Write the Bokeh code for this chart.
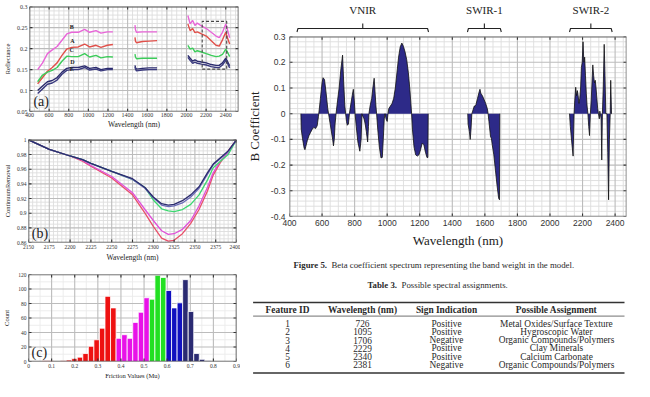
import math
from bokeh.plotting import figure
from bokeh.layouts import row, column
from bokeh.models import Range1d, SingleIntervalTicker, CustomJSTickFormatter, ColumnDataSource
from bokeh.core.properties import value
from bokeh.embed import file_html
from bokeh.resources import INLINE

SERIF = "Liberation Serif"
SANS = "Liberation Sans"

# ---------------- data: (a) reflectance spectra ----------------
refl_wl_1 = [483, 533, 583, 632, 681, 731, 780, 830, 897, 962, 1012, 1078, 1128, 1194, 1250]
refl_B_1 = [0.150, 0.166, 0.188, 0.197, 0.205, 0.220, 0.235, 0.239, 0.239, 0.246, 0.239, 0.243, 0.237, 0.240, 0.240]
refl_A_1 = [0.116, 0.131, 0.146, 0.155, 0.166, 0.184, 0.199, 0.203, 0.204, 0.211, 0.204, 0.208, 0.203, 0.208, 0.210]
refl_C_1 = [0.121, 0.137, 0.144, 0.148, 0.155, 0.170, 0.182, 0.181, 0.181, 0.188, 0.180, 0.184, 0.178, 0.181, 0.180]
refl_D_1 = [0.100, 0.111, 0.121, 0.124, 0.131, 0.144, 0.153, 0.155, 0.155, 0.159, 0.153, 0.155, 0.150, 0.153, 0.153]
refl_E_1 = [0.093, 0.104, 0.115, 0.118, 0.125, 0.139, 0.148, 0.150, 0.150, 0.155, 0.149, 0.151, 0.147, 0.150, 0.150]

refl_wl_2 = [1475, 1480, 1490, 1550, 1620, 1700]
refl_B_2 = [0.256, 0.245, 0.239, 0.240, 0.240, 0.240]
refl_A_2 = [0.227, 0.218, 0.214, 0.217, 0.218, 0.219]
refl_C_2 = [0.187, 0.180, 0.176, 0.177, 0.177, 0.177]
refl_D_2 = [0.160, 0.155, 0.151, 0.153, 0.154, 0.154]
refl_E_2 = [0.156, 0.151, 0.147, 0.149, 0.150, 0.150]

refl_wl_3 = [2014, 2037, 2063, 2086, 2110, 2153, 2202, 2252, 2301, 2334, 2367, 2400, 2417, 2440]
refl_B_3 = [0.279, 0.259, 0.267, 0.255, 0.261, 0.254, 0.248, 0.239, 0.230, 0.226, 0.239, 0.259, 0.246, 0.226]
refl_A_3 = [0.259, 0.243, 0.248, 0.238, 0.240, 0.235, 0.230, 0.219, 0.208, 0.206, 0.221, 0.239, 0.226, 0.211]
refl_C_3 = [0.208, 0.199, 0.201, 0.192, 0.195, 0.192, 0.188, 0.184, 0.181, 0.182, 0.186, 0.199, 0.192, 0.181]
refl_D_3 = [0.184, 0.177, 0.170, 0.173, 0.170, 0.168, 0.166, 0.162, 0.160, 0.160, 0.166, 0.177, 0.170, 0.159]
refl_E_3 = [0.179, 0.172, 0.165, 0.168, 0.165, 0.163, 0.161, 0.157, 0.155, 0.155, 0.161, 0.172, 0.165, 0.154]

sample_names = ["B", "A", "C", "D", "E"]
label_wl = [830, 837, 830, 837, 830]
label_val = [0.245, 0.210, 0.190, 0.161, 0.145]
zoom_box_wl = [2160, 2410]
zoom_box_val = [0.151, 0.265]

# ---------------- data: (b) continuum removal ----------------
cr_wl = [2150, 2175, 2200, 2215, 2225, 2250, 2275, 2290, 2300, 2310, 2318, 2325, 2335, 2345, 2355, 2365, 2372, 2380, 2390, 2400]
cr_D = [1.0, 0.987, 0.978, 0.973, 0.968, 0.957, 0.947, 0.935, 0.922, 0.913, 0.911, 0.912, 0.917, 0.925, 0.936, 0.955, 0.967, 0.975, 0.985, 1.0]
cr_E = [1.0, 0.987, 0.978, 0.973, 0.968, 0.957, 0.946, 0.934, 0.921, 0.911, 0.909, 0.910, 0.914, 0.922, 0.934, 0.953, 0.966, 0.974, 0.984, 1.0]
cr_C = [1.0, 0.987, 0.978, 0.973, 0.968, 0.957, 0.946, 0.935, 0.918, 0.906, 0.903, 0.902, 0.905, 0.912, 0.925, 0.945, 0.962, 0.970, 0.980, 1.0]
cr_B = [1.0, 0.987, 0.978, 0.972, 0.965, 0.950, 0.928, 0.905, 0.890, 0.876, 0.871, 0.872, 0.878, 0.890, 0.910, 0.935, 0.955, 0.970, 0.983, 1.0]
cr_A = [1.0, 0.987, 0.978, 0.971, 0.964, 0.948, 0.925, 0.900, 0.882, 0.866, 0.862, 0.863, 0.872, 0.886, 0.905, 0.930, 0.952, 0.968, 0.985, 1.0]

# ---------------- data: (c) friction histogram ----------------
mu_centers = [0.071, 0.095, 0.151, 0.175, 0.199, 0.223, 0.247, 0.271, 0.295, 0.319, 0.343, 0.367,
              0.391, 0.415, 0.439, 0.463, 0.487, 0.511, 0.535, 0.559, 0.583, 0.607, 0.631, 0.655,
              0.679, 0.703, 0.727, 0.751, 0.775]
mu_counts = [1, 1, 1, 2, 4, 6, 11, 21, 30, 46, 90, 74,
             32, 37, 32, 54, 68, 88, 86, 119, 116, 98, 74, 81,
             113, 69, 11, 3, 1]
class_edges = [0.38, 0.523, 0.595, 0.667]

# ---------------- data: B coefficient ----------------
vnir_wl = [470, 472, 480, 490, 495, 500, 510, 520, 530, 540, 550, 560, 570, 578, 585, 590, 600, 606, 615, 625,
           635, 640, 645, 655, 665, 670, 675, 680, 686, 695, 705, 715, 726, 733, 740, 745, 750, 755, 762, 768,
           775, 785, 792, 798, 803, 810, 820, 832, 840, 845, 850, 858, 865, 872, 880, 885, 888, 895, 905, 912,
           920, 926, 931, 935, 942, 952, 962, 970, 976, 982, 987, 993, 1000, 1005, 1010, 1020, 1030, 1040, 1050, 1060,
           1070, 1080, 1090, 1100, 1110, 1120, 1130, 1140, 1150, 1155, 1165, 1175, 1185, 1195, 1205, 1215, 1225, 1235, 1245, 1250,
           1252]
vnir_b = [0, -0.06, -0.097, -0.134, -0.14, -0.128, -0.103, -0.085, -0.072, -0.06, -0.053, -0.058, -0.047, -0.01, 0.03, 0.06, 0.12, 0.14, 0.133, 0.08,
          0.02, 0, -0.02, -0.06, -0.1, -0.125, -0.1, -0.04, 0, 0.05, 0.1, 0.17, 0.228, 0.12, 0.03, 0, -0.03, -0.045, -0.04, 0,
          0.03, 0.07, 0.095, 0.05, 0, -0.05, -0.11, -0.146, -0.1, 0, -0.01, -0.02, -0.04, -0.07, -0.11, -0.05, 0, 0.03, 0.06, 0.1,
          0.138, 0.08, 0.03, 0, -0.06, -0.13, -0.172, -0.17, -0.1, -0.02, 0, -0.02, -0.03, 0, 0.02, 0.03, 0.04, 0.06, 0.1, 0.16,
          0.22, 0.26, 0.275, 0.262, 0.24, 0.21, 0.16, 0.09, 0, -0.06, -0.13, -0.16, -0.165, -0.16, -0.14, -0.115, -0.12, -0.15, -0.171, -0.17,
          0]
swir1_wl = [1495, 1497, 1505, 1510, 1515, 1520, 1525, 1535, 1540, 1545, 1555, 1565, 1570, 1575, 1585, 1595, 1605, 1615, 1620, 1625,
            1635, 1640, 1645, 1655, 1665, 1675, 1685, 1690, 1692]
swir1_b = [0, -0.04, -0.07, -0.1, -0.06, 0, 0.01, 0.03, 0.03, 0.035, 0.06, 0.085, 0.095, 0.08, 0.07, 0.055, 0.04, 0.02, 0, -0.03,
           -0.09, -0.095, -0.12, -0.16, -0.22, -0.28, -0.33, -0.335, 0]
swir2_wl = [2120, 2125, 2135, 2142, 2148, 2152, 2158, 2163, 2168, 2173, 2178, 2183, 2188, 2193, 2198, 2203, 2208, 2213, 2218, 2223,
            2228, 2233, 2238, 2243, 2248, 2253, 2258, 2263, 2268, 2273, 2278, 2283, 2288, 2293, 2298, 2303, 2306, 2309, 2314, 2318,
            2322, 2327, 2333, 2338, 2343, 2350, 2355, 2360, 2365, 2370, 2373, 2378, 2380]
swir2_b = [0, -0.05, -0.12, -0.165, 0, 0.05, 0.103, 0.07, 0.09, 0.07, 0.04, 0.06, 0.1, 0.18, 0.2, 0.28, 0.2, 0.22, 0.15, 0.08,
           0.03, 0, -0.05, -0.085, 0, 0.05, 0.12, 0.19, 0.15, 0.12, 0.13, 0.1, 0.06, 0.02, 0, -0.02, 0.01, 0, -0.02, -0.18,
           0, 0.1, 0.27, 0.15, 0, 0, -0.15, -0.335, -0.1, 0, 0.13, 0, 0]

region_names = ["VNIR", "SWIR-1", "SWIR-2"]
region_start = [446, 1493, 2120]
region_end = [1254, 1701, 2382]

# ---------------- data: table ----------------
table_title = "Table 3."
table_caption = "Possible spectral assignments."
fig_title = "Figure 5."
fig_caption = "Beta coefficient spectrum representing the band weight in the model."
col_headers = ["Feature ID", "Wavelength (nm)", "Sign Indication", "Possible Assignment"]
feat_id = ["1", "2", "3", "4", "5", "6"]
feat_wl = ["726", "1095", "1706", "2229", "2340", "2381"]
feat_sign = ["Positive", "Positive", "Negative", "Positive", "Positive", "Negative"]
feat_assign = ["Metal Oxides/Surface Texture", "Hygroscopic Water", "Organic Compounds/Polymers",
               "Clay Minerals", "Calcium Carbonate", "Organic Compounds/Polymers"]

# ---------------- helpers ----------------
FMT = CustomJSTickFormatter(code="return String(Math.round(tick*1000)/1000);")


def steps(a, b, step):
    n0 = int(math.ceil(a / step - 1e-6))
    n1 = int(math.floor(b / step + 1e-6))
    return [round(k * step, 6) for k in range(n0, n1 + 1)]


def matlab_axes(p, xr_, yr_, xint, xminor, yint, yminor, tick_font, tick_size, label_size,
                label_font=SERIF, grid_major="#bcbcbc", grid_minor="#dedede"):
    x0, x1 = xr_
    y0, y1 = yr_
    p.xaxis.ticker = SingleIntervalTicker(interval=xint)
    p.yaxis.ticker = SingleIntervalTicker(interval=yint)
    p.xaxis.formatter = FMT
    p.yaxis.formatter = FMT
    for ax in (p.xaxis, p.yaxis):
        ax.major_tick_in = 0
        ax.major_tick_out = 0
        ax.minor_tick_in = 0
        ax.minor_tick_out = 0
        ax.axis_line_color = None
        ax.major_tick_line_color = None
        ax.minor_tick_line_color = None
        ax.major_label_text_font = tick_font
        ax.major_label_text_font_size = tick_size
        ax.major_label_text_color = "#333333"
        ax.axis_label_text_font = label_font
        ax.axis_label_text_font_size = label_size
        ax.axis_label_text_font_style = "normal"
        ax.axis_label_text_color = "#222222"
    p.xgrid.visible = False
    p.ygrid.visible = False
    p.outline_line_color = None
    p.background_fill_color = None
    p.border_fill_color = None
    p.frame_align = False
    xmaj = steps(x0, x1, xint)
    ymaj = steps(y0, y1, yint)
    if xminor:
        xmin_v = [v for v in steps(x0, x1, xminor) if min(abs(v - m) for m in xmaj) > 1e-6]
        p.segment(x0=xmin_v, y0=[y0] * len(xmin_v), x1=xmin_v, y1=[y1] * len(xmin_v),
                  line_color=grid_minor, line_width=0.9)
    if yminor:
        ymin_v = [v for v in steps(y0, y1, yminor) if min(abs(v - m) for m in ymaj) > 1e-6]
        p.segment(x0=[x0] * len(ymin_v), y0=ymin_v, x1=[x1] * len(ymin_v), y1=ymin_v,
                  line_color=grid_minor, line_width=0.9)
    p.segment(x0=xmaj, y0=[y0] * len(xmaj), x1=xmaj, y1=[y1] * len(xmaj),
              line_color=grid_major, line_width=1.1)
    p.segment(x0=[x0] * len(ymaj), y0=ymaj, x1=[x1] * len(ymaj), y1=ymaj,
              line_color=grid_major, line_width=1.1)


def matlab_box(p, xr_, yr_, fw, fh, xint, yint, frame_col="#5a5a5a"):
    x0, x1 = xr_
    y0, y1 = yr_
    xmaj = steps(x0, x1, xint)
    ymaj = steps(y0, y1, yint)
    dy = 3.0 * (y1 - y0) / fh
    dx = 3.0 * (x1 - x0) / fw
    p.segment(x0=xmaj + xmaj, y0=[y0] * len(xmaj) + [y1] * len(xmaj), x1=xmaj + xmaj,
              y1=[y0 + dy] * len(xmaj) + [y1 - dy] * len(xmaj), line_color="#333333", line_width=1.1)
    p.segment(x0=[x0] * len(ymaj) + [x1] * len(ymaj), y0=ymaj + ymaj,
              x1=[x0 + dx] * len(ymaj) + [x1 - dx] * len(ymaj), y1=ymaj + ymaj,
              line_color="#333333", line_width=1.1)
    p.multi_line(xs=[[x0, x1], [x0, x1], [x0, x0], [x1, x1]], ys=[[y0, y0], [y1, y1], [y0, y1], [y0, y1]],
                 line_color=frame_col, line_width=1.6)


# ---------------- (a) reflectance ----------------
A_X, A_Y = (400, 2530), (0.05, 0.3)
pa = figure(width=240, height=131, x_range=Range1d(*A_X), y_range=Range1d(0.05, 0.3005),
            toolbar_location=None, output_backend="svg",
            min_border_left=28, min_border_right=2, min_border_top=6, min_border_bottom=15)
matlab_axes(pa, A_X, A_Y, 200, 50, 0.05, 0.01, SERIF, "6px", "7.5px")
pa.xaxis.axis_label = "Wavelength (nm)"
pa.yaxis.axis_label = "Reflectance"
pa.xaxis.major_label_standoff = 1
pa.yaxis.major_label_standoff = 2
pa.xaxis.axis_label_standoff = 0
pa.yaxis.axis_label_standoff = 3
pa.yaxis.axis_label_text_font_size = "6.5px"

col_B, col_A, col_C, col_D, col_E = "#e866d8", "#e0504a", "#3ccc5a", "#2b2b6e", "#3a3a7e"
segs = [
    (refl_wl_1, [refl_B_1, refl_A_1, refl_C_1, refl_D_1, refl_E_1]),
    (refl_wl_2, [refl_B_2, refl_A_2, refl_C_2, refl_D_2, refl_E_2]),
    (refl_wl_3, [refl_B_3, refl_A_3, refl_C_3, refl_D_3, refl_E_3]),
]
for wl, series in segs:
    for s, c in zip(series, [col_B, col_A, col_C, col_D, col_E]):
        pa.line(wl, s, line_color=c, line_width=1.4)
pa.text(x=label_wl, y=label_val, text=sample_names, text_font=value(SERIF), text_font_size="6px",
        text_align="center", text_baseline="bottom", text_color="#222222", text_font_style="bold")
pa.line([zoom_box_wl[0], zoom_box_wl[1], zoom_box_wl[1], zoom_box_wl[0], zoom_box_wl[0]],
        [zoom_box_val[0], zoom_box_val[0], zoom_box_val[1], zoom_box_val[1], zoom_box_val[0]],
        line_color="#444444", line_width=1.1, line_dash="3 2")
pa.text(x=[440], y=[0.056], text=["(a)"], text_font=value(SERIF), text_font_size="14px",
        text_align="left", text_baseline="bottom", text_color="#222222")
matlab_box(pa, A_X, A_Y, 210, 110, 200, 0.05)

# ---------------- (b) continuum removal ----------------
B_X, B_Y = (2150, 2400), (0.86, 1.0)
pb = figure(width=240, height=133, x_range=Range1d(*B_X), y_range=Range1d(0.86, 1.0005),
            toolbar_location=None, output_backend="svg",
            min_border_left=28, min_border_right=4, min_border_top=8, min_border_bottom=21)
matlab_axes(pb, B_X, B_Y, 25, 5, 0.02, 0.005, SERIF, "5.5px", "7.5px")
pb.xaxis.axis_label = "Wavelength (nm)"
pb.yaxis.axis_label = "ContinuumRemoval"
pb.xaxis.major_label_standoff = 2
pb.yaxis.major_label_standoff = 2
pb.xaxis.axis_label_standoff = 1
pb.yaxis.axis_label_standoff = 3
pb.yaxis.axis_label_text_font_size = "6.5px"
for s, c in zip([cr_A, cr_B, cr_C, cr_E, cr_D], ["#e8506a", "#e050d8", "#3cd870", "#6a6ab8", "#2b2b6e"]):
    pb.line(cr_wl, s, line_color=c, line_width=1.3)
pb.text(x=[2154], y=[0.8625], text=["(b)"], text_font=value(SERIF), text_font_size="14px",
        text_align="left", text_baseline="bottom", text_color="#222222")
matlab_box(pb, B_X, B_Y, 208, 104, 25, 0.02)

# ---------------- (c) histogram ----------------
C_X, C_Y = (0, 0.9), (0, 120)
pc = figure(width=240, height=117, x_range=Range1d(*C_X), y_range=Range1d(0, 120.1),
            toolbar_location=None, output_backend="svg",
            min_border_left=28, min_border_right=4, min_border_top=10, min_border_bottom=19)
matlab_axes(pc, C_X, C_Y, 0.1, 0.05, 20, 10, SERIF, "5.5px", "6.5px", grid_minor="#ebebeb")
pc.xaxis.axis_label = "Friction Values (Mu)"
pc.yaxis.axis_label = "Count"
pc.xaxis.major_label_standoff = 2
pc.yaxis.major_label_standoff = 2
pc.xaxis.axis_label_standoff = 1
pc.yaxis.axis_label_standoff = 5
hist_palette = ["#ee1111", "#e812e8", "#22e022", "#1010c0", "#2a2a72"]
bar_colors = []
for cval in mu_centers:
    k = sum(1 for e in class_edges if cval > e)
    bar_colors.append(hist_palette[k])
pc.vbar(x=mu_centers, top=mu_counts, width=0.024, fill_color=bar_colors, line_color="white", line_width=0.8)
pc.text(x=[0.013], y=[2.5], text=["(c)"], text_font=value(SERIF), text_font_size="14px",
        text_align="left", text_baseline="bottom", text_color="#222222")
matlab_box(pc, C_X, C_Y, 208, 88, 0.1, 20)

# ---------------- bracket strip ----------------
xr = Range1d(400, 2470)
pbr = figure(width=394, height=33, x_range=xr, y_range=Range1d(33, 0), toolbar_location=None,
             output_backend="svg", x_axis_type=None, y_axis_type=None,
             min_border_left=49, min_border_right=8, min_border_top=0, min_border_bottom=0)
pbr.outline_line_color = None
pbr.xgrid.visible = False
pbr.ygrid.visible = False
pbr.frame_align = False
pbr.background_fill_color = None
pbr.border_fill_color = None
bx, by = [], []
for s, e in zip(region_start, region_end):
    m = (s + e) / 2
    bx.append([s, s + 6, e - 6, e])
    by.append([31.5, 28, 28, 31.5])
    bx.append([m, m])
    by.append([28, 23])
pbr.multi_line(bx, by, line_color="#222222", line_width=1.1)
pbr.text(x=[(s + e) / 2 for s, e in zip(region_start, region_end)], y=[9] * 3, text=region_names,
         text_font=value(SERIF), text_font_size="11px", text_align="center", text_baseline="middle",
         text_color="#222222")

# ---------------- B coefficient plot ----------------
BB_X, BB_Y = (400, 2470), (-0.4, 0.3)
pB = figure(width=394, height=217, x_range=xr, y_range=Range1d(-0.4, 0.3005), toolbar_location=None,
            output_backend="svg", min_border_left=49, min_border_right=8, min_border_top=3, min_border_bottom=34)
matlab_axes(pB, BB_X, BB_Y, 200, 50, 0.1, 0.02, SANS, "8.5px", "13px")
pB.xaxis.axis_label = "Wavelength (nm)"
pB.yaxis.axis_label = "B Coefficient"
pB.xaxis.major_label_standoff = 3
pB.yaxis.major_label_standoff = 4
pB.xaxis.axis_label_standoff = 4
pB.yaxis.axis_label_standoff = 6
fill = "#2d2a88"
for wl, b in [(vnir_wl, vnir_b), (swir1_wl, swir1_b), (swir2_wl, swir2_b)]:
    src = ColumnDataSource(dict(wl=wl, b=b))
    pB.varea(x="wl", y1=0, y2="b", source=src, fill_color=fill)
    pB.line(x="wl", y="b", source=src, line_color="#111111", line_width=0.8)
matlab_box(pB, BB_X, BB_Y, 337, 180, 200, 0.1, frame_col="#777777")

# ---------------- caption and table ----------------
pt = figure(width=394, height=133, x_range=Range1d(0, 394), y_range=Range1d(133, 0), toolbar_location=None,
            output_backend="svg", x_axis_type=None, y_axis_type=None,
            min_border_left=0, min_border_right=0, min_border_top=0, min_border_bottom=0)
pt.outline_line_color = None
pt.xgrid.visible = False
pt.ygrid.visible = False
pt.frame_align = False
pt.background_fill_color = None
pt.border_fill_color = None
TXT = "#2a2a2a"
FS = "9.4px"
pt.text(x=[53], y=[14], text=[fig_title], text_font=value(SERIF), text_font_size="8.8px",
        text_font_style="bold", text_align="left", text_baseline="middle", text_color=TXT)
pt.text(x=[91], y=[14], text=[fig_caption], text_font=value(SERIF), text_font_size="8.8px",
        text_align="left", text_baseline="middle", text_color=TXT)
pt.text(x=[127], y=[34], text=[table_title], text_font=value(SERIF), text_font_size="8.8px",
        text_font_style="bold", text_align="left", text_baseline="middle", text_color=TXT)
pt.text(x=[161], y=[34], text=[table_caption], text_font=value(SERIF), text_font_size="8.8px",
        text_align="left", text_baseline="middle", text_color=TXT)
col_x = [47, 122, 206, 316]
pt.segment(x0=[12.6, 12.6, 12.6], y0=[52, 65.6, 122.6], x1=[384, 384, 384], y1=[52, 65.6, 122.6],
           line_color="#333333", line_width=[1.5, 0.7, 1.5])
pt.text(x=col_x, y=[59] * 4, text=col_headers, text_font=value(SERIF), text_font_size=FS,
        text_font_style="bold", text_align="center", text_baseline="middle", text_color=TXT)
row_y = [73 + 8.25 * i for i in range(len(feat_id))]
for cx, colvals in zip(col_x, [feat_id, feat_wl, feat_sign, feat_assign]):
    pt.text(x=[cx] * len(colvals), y=row_y, text=colvals, text_font=value(SERIF), text_font_size=FS,
            text_align="center", text_baseline="middle", text_color=TXT)

layout = row(column(pa, pb, pc, spacing=0), column(pbr, pB, pt, spacing=0), spacing=0)
open("out.html", "w").write(file_html(layout, INLINE))
